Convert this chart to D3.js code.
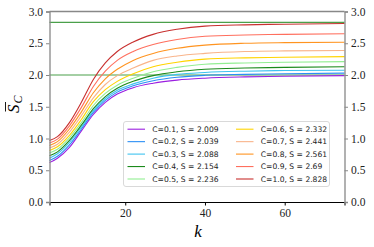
<!DOCTYPE html>
<html lang="en">
<head>
<meta charset="UTF-8">
<title>S_C vs k</title>
<script src="https://d3js.org/d3.v7.min.js"></script>
<style>
    body { margin: 0; background: #fff; }
    .tick text { font-family: "Liberation Serif", serif; font-size: 11.5px; fill: #222; }
    .legend text { font-family: "DejaVu Sans", sans-serif; font-size: 7.6px; fill: #222; }
</style>
</head>
<body>
<script>
    // k sample points
    const kValues = [1, 3, 6, 9, 12, 15, 18, 22, 27, 33, 40, 50, 60, 75];

    const cValues = [0.1, 0.2, 0.3, 0.4, 0.5, 0.6, 0.7, 0.8, 0.9, 1.0];
    const sLimits = ["2.009", "2.039", "2.088", "2.154", "2.236", "2.332", "2.441", "2.561", "2.69", "2.828"];
    const colors = ["#9b1fe0", "#2b8ff5", "#3ec3f0", "#1b8a1b", "#93ee93",
                    "#ffd400", "#f9b48a", "#ff9420", "#ff6f5e", "#c8302f"];

    // one row per C value
    const sCurves = [
        [0.62, 0.69, 0.86, 1.12, 1.38, 1.57, 1.70, 1.80, 1.87, 1.92, 1.95, 1.97, 1.98, 1.99],
        [0.655, 0.72, 0.90, 1.15, 1.41, 1.60, 1.73, 1.83, 1.91, 1.965, 1.995, 2.01, 2.02, 2.03],
        [0.69, 0.76, 0.94, 1.18, 1.44, 1.63, 1.76, 1.86, 1.95, 2.01, 2.04, 2.06, 2.07, 2.075],
        [0.73, 0.79, 0.97, 1.21, 1.47, 1.66, 1.79, 1.90, 1.99, 2.05, 2.09, 2.11, 2.12, 2.13],
        [0.77, 0.83, 1.01, 1.25, 1.52, 1.71, 1.84, 1.95, 2.05, 2.12, 2.17, 2.19, 2.20, 2.21],
        [0.81, 0.87, 1.05, 1.30, 1.58, 1.77, 1.90, 2.02, 2.13, 2.20, 2.25, 2.27, 2.28, 2.29],
        [0.85, 0.91, 1.10, 1.36, 1.64, 1.85, 1.99, 2.11, 2.23, 2.30, 2.34, 2.37, 2.38, 2.385],
        [0.89, 0.95, 1.15, 1.42, 1.72, 1.94, 2.09, 2.23, 2.34, 2.42, 2.47, 2.50, 2.51, 2.515],
        [0.93, 0.99, 1.20, 1.49, 1.82, 2.06, 2.23, 2.37, 2.48, 2.56, 2.61, 2.63, 2.64, 2.65],
        [0.97, 1.03, 1.25, 1.57, 1.93, 2.19, 2.37, 2.52, 2.64, 2.72, 2.77, 2.79, 2.80, 2.81]
    ];

    // reference levels (green lines)
    const refLines = [2.0, 2.828];

    const xTicks = [20, 40, 60];
    const yTicks = [0, 0.5, 1.0, 1.5, 2.0, 2.5, 3.0];

    const width = 374, height = 247;
    const margin = { top: 11.5, right: 29.5, bottom: 45, left: 49.5 };

    const svg = d3.select("body").append("svg")
        .attr("width", width)
        .attr("height", height);

    const x = d3.scaleLinear().domain([1, 75]).range([margin.left, width - margin.right]);
    const y = d3.scaleLinear().domain([0, 3]).range([height - margin.bottom, margin.top]);

    // green horizontal lines
    svg.selectAll(".ref")
        .data(refLines)
        .enter().append("line")
        .attr("x1", x(1)).attr("x2", x(75))
        .attr("y1", d => y(d)).attr("y2", d => y(d))
        .attr("stroke", "#2a8f2a")
        .attr("stroke-opacity", 0.85)
        .attr("stroke-width", 1.2);

    // curves
    const line = d3.line()
        .x((d, i) => x(kValues[i]))
        .y(d => y(d))
        .curve(d3.curveMonotoneX);

    svg.selectAll(".curve")
        .data(sCurves)
        .enter().append("path")
        .attr("fill", "none")
        .attr("stroke", (d, i) => colors[i])
        .attr("stroke-width", 1.1)
        .attr("d", line);

    // axes
    const fmt = d3.format(".1f");
    const gx = svg.append("g")
        .attr("transform", `translate(0,${y(0)})`)
        .call(d3.axisBottom(x).tickValues(xTicks).tickSize(3.5).tickPadding(3));
    gx.select(".domain").attr("stroke", "#000").attr("stroke-width", 1);

    const gyl = svg.append("g")
        .attr("transform", `translate(${x(1)},0)`)
        .call(d3.axisLeft(y).tickValues(yTicks).tickFormat(fmt).tickSize(3.5).tickPadding(3));
    const gyr = svg.append("g")
        .attr("transform", `translate(${x(75)},0)`)
        .call(d3.axisRight(y).tickValues(yTicks).tickFormat(fmt).tickSize(3.5).tickPadding(3));
    [gyl, gyr].forEach(g => {
        g.select(".domain").attr("stroke", "#888").attr("stroke-width", 1.3);
        g.selectAll(".tick line").attr("stroke", "#888");
    });

    // top spine
    svg.append("line")
        .attr("x1", x(1)).attr("x2", x(75))
        .attr("y1", y(3)).attr("y2", y(3))
        .attr("stroke", "#888").attr("stroke-width", 1.3);

    // axis titles
    svg.append("text")
        .attr("x", 198).attr("y", 237)
        .attr("text-anchor", "middle")
        .style("font-family", "'Liberation Serif', serif")
        .style("font-style", "italic")
        .style("font-size", "17px")
        .text("k");

    const yl = svg.append("g").attr("transform", "translate(19,113) rotate(-90)");
    yl.append("text")
        .attr("x", 0).attr("y", 0)
        .style("font-family", "'Liberation Serif', serif")
        .style("font-style", "italic")
        .style("font-size", "17px")
        .text("S");
    yl.append("text")
        .attr("x", 9.5).attr("y", 3)
        .style("font-family", "'Liberation Serif', serif")
        .style("font-style", "italic")
        .style("font-size", "12px")
        .text("C");
    yl.append("line")
        .attr("x1", 1.5).attr("x2", 11)
        .attr("y1", -13.5).attr("y2", -13.5)
        .attr("stroke", "#000").attr("stroke-width", 0.9);

    // legend
    const legend = svg.append("g").attr("class", "legend");
    legend.append("rect")
        .attr("x", 123.5).attr("y", 121.5)
        .attr("width", 206).attr("height", 65)
        .attr("rx", 2.5)
        .attr("fill", "#fff").attr("fill-opacity", 0.85)
        .attr("stroke", "#d5d5d5").attr("stroke-width", 0.9);

    const items = legend.selectAll(".item")
        .data(cValues)
        .enter().append("g")
        .attr("transform", (d, i) => {
            const col = Math.floor(i / 5), row = i % 5;
            return `translate(${127.5 + col * 108.5},${129.2 + row * 12.45})`;
        });
    items.append("line")
        .attr("x1", 0).attr("x2", 17.5)
        .attr("stroke", (d, i) => colors[i])
        .attr("stroke-width", 1.1);
    items.append("text")
        .attr("x", 24.8).attr("y", 2.8)
        .text((d, i) => `C=${d.toFixed(1)}, S = ${sLimits[i]}`);
</script>
</body>
</html>
